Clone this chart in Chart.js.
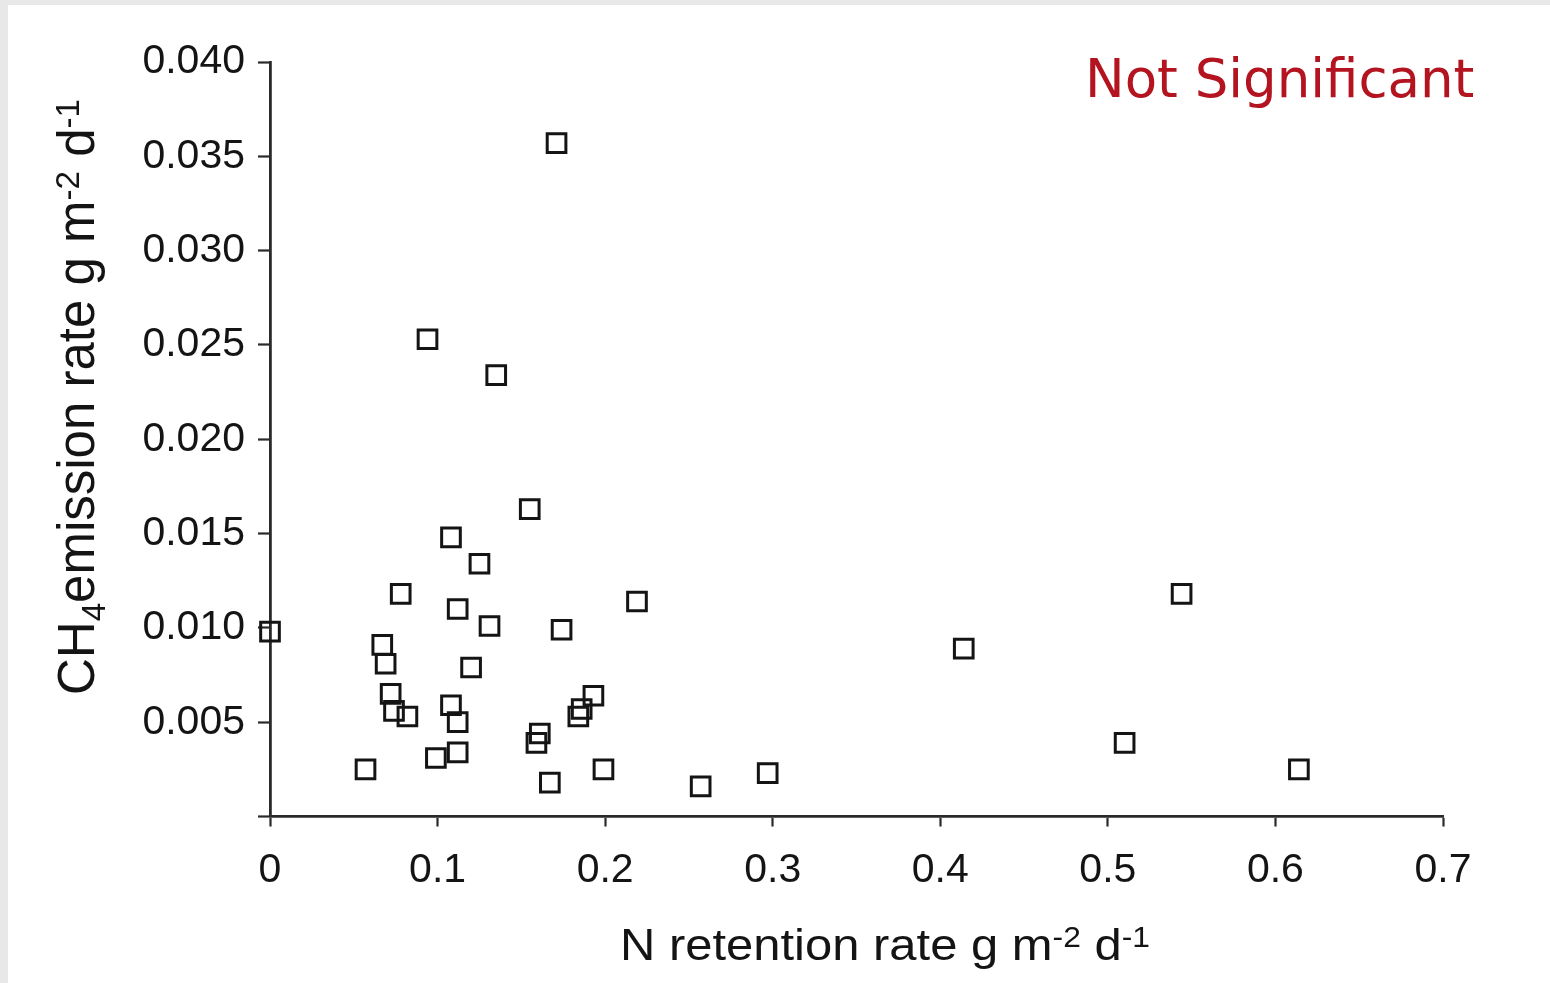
<!DOCTYPE html>
<html>
<head>
<meta charset="utf-8">
<title>CH4 emission vs N retention</title>
<script src="https://cdn.jsdelivr.net/npm/chart.js@4.4.1/dist/chart.umd.min.js"></script>
<style>
    html, body { margin: 0; padding: 0; background: #e8e8e8; }
    #wrap { position: absolute; left: 8px; top: 5px; width: 1542px; height: 978px; background: #fff; }
</style>
</head>
<body>
<div id="wrap"><canvas id="chart"></canvas></div>
<script>
/* ============================================
   CH4 emission rate vs N retention rate
   ============================================ */

// N retention rate (g m-2 d-1)
const nRetention = [
    0.171, 0.094, 0.135, 0.155, 0.108, 0.125, 0.078, 0.112, 0.219, 0.131,
    0.174, 0.000, 0.067, 0.069, 0.120, 0.414, 0.544, 0.072, 0.074, 0.082,
    0.108, 0.112, 0.193, 0.186, 0.184, 0.161, 0.159, 0.112, 0.099, 0.057,
    0.199, 0.167, 0.257, 0.297, 0.510, 0.614
];

// CH4 emission rate (g m-2 d-1)
const ch4Emission = [
    0.0357, 0.0253, 0.0234, 0.0163, 0.0148, 0.0134, 0.0118, 0.0110, 0.0114, 0.0101,
    0.0099, 0.0098, 0.0091, 0.0081, 0.0079, 0.0089, 0.0118, 0.0065, 0.0056, 0.0053,
    0.0059, 0.0050, 0.0064, 0.0057, 0.0053, 0.0044, 0.0039, 0.0034, 0.0031, 0.0025,
    0.0025, 0.0018, 0.0016, 0.0023, 0.0039, 0.0025
];

const xTickValues = [0, 0.1, 0.2, 0.3, 0.4, 0.5, 0.6, 0.7];
const yTickValues = [0, 0.005, 0.010, 0.015, 0.020, 0.025, 0.030, 0.035, 0.040];

const xTitle = [
    { text: 'N retention rate g m' },
    { text: '-2', scale: 0.65, dy: -0.3 },
    { text: ' d' },
    { text: '-1', scale: 0.65, dy: -0.3 }
];
const yTitle = [
    { text: 'CH' },
    { text: '4', scale: 0.65, dy: 0.22 },
    { text: 'emission rate g m' },
    { text: '-2', scale: 0.65, dy: -0.3 },
    { text: ' d' },
    { text: '-1', scale: 0.65, dy: -0.3 }
];
const note = 'Not Significant';

const INK = '#141414';
const AXIS = '#2a2a2a';
const SANS = '"Liberation Sans", Arial, sans-serif';

function drawRich(ctx, parts, size) {
    let x = 0;
    parts.forEach(p => {
        ctx.font = `${size * (p.scale || 1)}px ${SANS}`;
        ctx.fillText(p.text, x, (p.dy || 0) * size);
        x += ctx.measureText(p.text).width;
    });
}

const titlesPlugin = {
    id: 'titles',
    afterDraw(chart) {
        const ctx = chart.ctx;
        ctx.save();
        ctx.fillStyle = INK;
        ctx.textBaseline = 'alphabetic';
        ctx.textAlign = 'left';

        // x axis title (slightly wide, like the source image)
        ctx.save();
        ctx.translate(612, 955);
        ctx.scale(1.1, 1);
        drawRich(ctx, xTitle, 44.5);
        ctx.restore();

        // y axis title
        ctx.save();
        ctx.translate(86, 690);
        ctx.rotate(-Math.PI / 2);
        drawRich(ctx, yTitle, 51);
        ctx.restore();

        // significance note
        ctx.fillStyle = '#b3141f';
        ctx.font = '53px "DejaVu Sans", Verdana, sans-serif';
        ctx.fillText(note, 1077, 92);
        ctx.restore();
    }
};

new Chart(document.getElementById('chart'), {
    type: 'scatter',
    data: {
        datasets: [{
            data: nRetention.map((x, i) => ({ x, y: ch4Emission[i] })),
            pointStyle: 'rect',
            pointRadius: 13.2,
            pointHoverRadius: 13.2,
            pointBorderWidth: 3,
            pointBorderColor: INK,
            pointBackgroundColor: 'rgba(0,0,0,0)',
            clip: false
        }]
    },
    options: {
        responsive: true, maintainAspectRatio: false, animation: false,
        layout: { padding: { left: 0, top: 57, right: 107, bottom: 0 } },
        plugins: { legend: { display: false }, tooltip: { enabled: false } },
        scales: {
            x: {
                type: 'linear', min: 0, max: 0.7,
                afterBuildTicks: s => { s.ticks = xTickValues.map(v => ({ value: v })); },
                afterFit: s => { s.height = 166.5; },
                ticks: {
                    color: INK, padding: 20, maxRotation: 0,
                    font: { family: SANS, size: 41 },
                    callback: v => v === 0 ? '0' : Number(v).toFixed(1)
                },
                grid: { drawOnChartArea: false, drawTicks: true, tickLength: 10, tickColor: AXIS, tickWidth: 2.2 },
                border: { display: true, color: AXIS, width: 2.8 }
            },
            y: {
                type: 'linear', min: 0, max: 0.04,
                afterBuildTicks: s => { s.ticks = yTickValues.map(v => ({ value: v })); },
                afterFit: s => { s.width = 262; },
                ticks: {
                    color: INK, padding: 13,
                    font: { family: SANS, size: 41 },
                    callback: v => v === 0 ? '' : Number(v).toFixed(3)
                },
                grid: { drawOnChartArea: false, drawTicks: true, tickLength: 12, tickColor: AXIS, tickWidth: 2.2 },
                border: { display: true, color: AXIS, width: 2.8 }
            }
        }
    },
    plugins: [titlesPlugin]
});
</script>
</body>
</html>
